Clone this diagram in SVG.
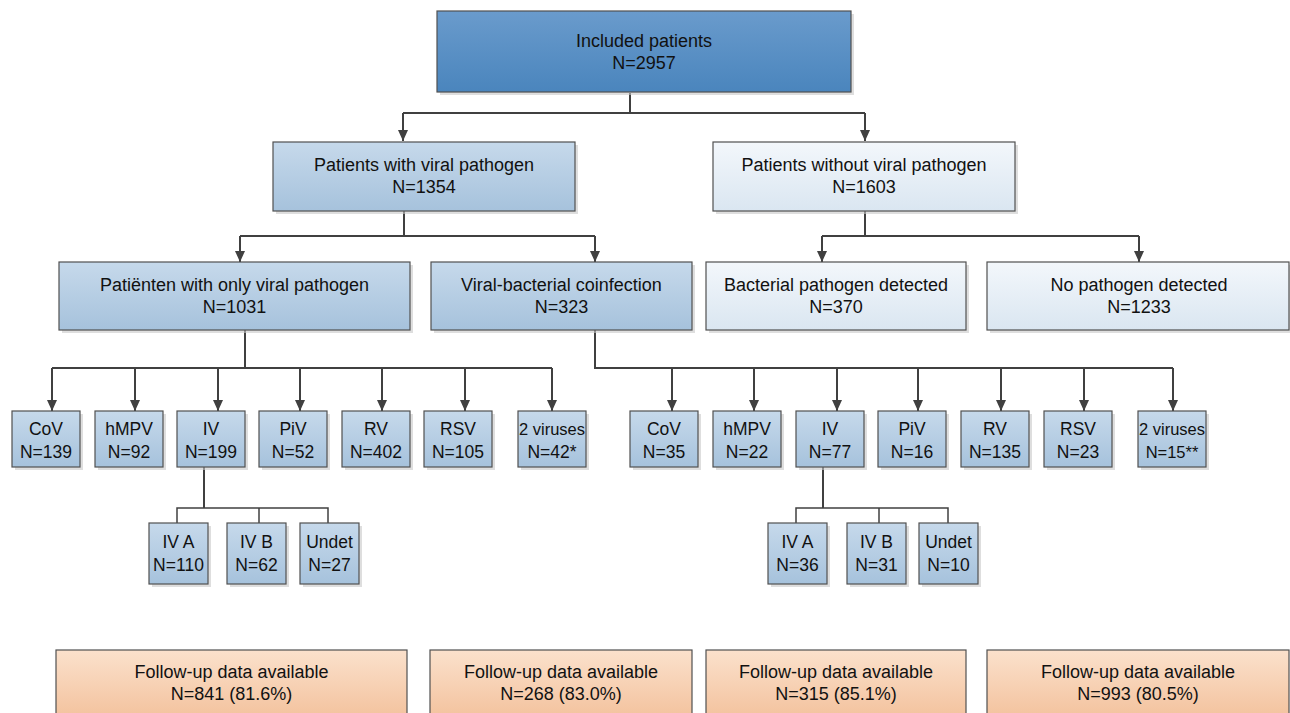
<svg xmlns="http://www.w3.org/2000/svg" width="1290" height="713" viewBox="0 0 1290 713">
<defs>
<linearGradient id="gTop" x1="0" y1="0" x2="0" y2="1"><stop offset="0" stop-color="#6a9bcc"/><stop offset="1" stop-color="#4a85bd"/></linearGradient>
<linearGradient id="gMid" x1="0" y1="0" x2="0" y2="1"><stop offset="0" stop-color="#c6d9eb"/><stop offset="1" stop-color="#a6c2dc"/></linearGradient>
<linearGradient id="gLight" x1="0" y1="0" x2="0" y2="1"><stop offset="0" stop-color="#f3f7fb"/><stop offset="1" stop-color="#dae6f1"/></linearGradient>
<linearGradient id="gPeach" x1="0" y1="0" x2="0" y2="1"><stop offset="0" stop-color="#fbe1cc"/><stop offset="1" stop-color="#f3c19c"/></linearGradient>
<marker id="arr" markerUnits="userSpaceOnUse" markerWidth="12" markerHeight="12" refX="11" refY="5" orient="auto" viewBox="0 0 12 10"><path d="M0,0 L11,5 L0,10 z" fill="#404040"/></marker>
</defs>
<style>
.box{stroke:#505050;stroke-width:1.2}
.sh{fill:#c8c8c8;opacity:0.6}
.top{fill:url(#gTop)}
.mid{fill:url(#gMid)}
.light{fill:url(#gLight)}
.peach{fill:url(#gPeach)}
text{font-family:"Liberation Sans",Arial,sans-serif;font-size:18px;fill:#111;text-anchor:middle}
.s{font-size:17.5px}
.s2{font-size:16.5px}
.c{fill:none;stroke:#404040;stroke-width:2}
.ca{fill:none;stroke:#404040;stroke-width:2;marker-end:url(#arr)}
.t{fill:none;stroke:#404040;stroke-width:1.5}
</style>
<rect width="1290" height="713" fill="#fff"/>

<g id="connectors">
<path class="c" d="M630,93 V113 M403,113 H865"/>
<path class="ca" d="M403,113 V141"/>
<path class="ca" d="M865,113 V141"/>
<path class="c" d="M404,211 V236 M240,236 H595"/>
<path class="ca" d="M240,236 V262"/>
<path class="ca" d="M595,236 V262"/>
<path class="c" d="M865,211 V236 M822,236 H1139"/>
<path class="ca" d="M822,236 V262"/>
<path class="ca" d="M1139,236 V262"/>
<path class="c" d="M245,330 V368 M52,368 H552"/>
<path class="ca" d="M52,368 V411"/>
<path class="ca" d="M135,368 V411"/>
<path class="ca" d="M218,368 V411"/>
<path class="ca" d="M300,368 V411"/>
<path class="ca" d="M382,368 V411"/>
<path class="ca" d="M465,368 V411"/>
<path class="ca" d="M552,368 V411"/>
<path class="c" d="M595,330 V368 H1173"/>
<path class="ca" d="M672,368 V411"/>
<path class="ca" d="M754,368 V411"/>
<path class="ca" d="M837,368 V411"/>
<path class="ca" d="M918,368 V411"/>
<path class="ca" d="M1001,368 V411"/>
<path class="ca" d="M1084,368 V411"/>
<path class="ca" d="M1173,368 V411"/>
<path class="c" d="M204,467 V508"/>
<path class="t" d="M177,523 V508 H328 V523 M259,508 V523"/>
<path class="c" d="M823,467 V508"/>
<path class="t" d="M796,523 V508 H948 V523 M879,508 V523"/>
</g>

<g id="n-included"><rect class="sh" x="440" y="14" width="414" height="81"/><rect class="box top" x="437" y="11" width="414" height="81"/><text x="644" y="47">Included patients</text><text x="644" y="69">N=2957</text></g>

<g id="n-viral"><rect class="sh" x="276" y="145" width="302" height="69"/><rect class="box mid" x="273" y="142" width="302" height="69"/><text x="424" y="171">Patients with viral pathogen</text><text x="424" y="193">N=1354</text></g>
<g id="n-noviral"><rect class="sh" x="716" y="145" width="302" height="69"/><rect class="box light" x="713" y="142" width="302" height="69"/><text x="864" y="171">Patients without viral pathogen</text><text x="864" y="193">N=1603</text></g>

<g id="n-onlyviral"><rect class="sh" x="62" y="265" width="351" height="68"/><rect class="box mid" x="59" y="262" width="351" height="68"/><text x="234.5" y="291">Patiënten with only viral pathogen</text><text x="234.5" y="313">N=1031</text></g>
<g id="n-coinf"><rect class="sh" x="434" y="265" width="261" height="68"/><rect class="box mid" x="431" y="262" width="261" height="68"/><text x="561.5" y="291">Viral-bacterial coinfection</text><text x="561.5" y="313">N=323</text></g>
<g id="n-bact"><rect class="sh" x="709" y="265" width="260" height="68"/><rect class="box light" x="706" y="262" width="260" height="68"/><text x="836" y="291">Bacterial pathogen detected</text><text x="836" y="313">N=370</text></g>
<g id="n-none"><rect class="sh" x="990" y="265" width="302" height="68"/><rect class="box light" x="987" y="262" width="302" height="68"/><text x="1139" y="291">No pathogen detected</text><text x="1139" y="313">N=1233</text></g>

<g id="l-cov"><rect class="sh" x="15" y="414" width="68" height="56"/><rect class="box mid" x="12" y="411" width="68" height="56"/><text class="s" x="46" y="435">CoV</text><text class="s" x="46" y="458">N=139</text></g>
<g id="l-hmpv"><rect class="sh" x="98" y="414" width="68" height="56"/><rect class="box mid" x="95" y="411" width="68" height="56"/><text class="s" x="129" y="435">hMPV</text><text class="s" x="129" y="458">N=92</text></g>
<g id="l-iv"><rect class="sh" x="180" y="414" width="68" height="56"/><rect class="box mid" x="177" y="411" width="68" height="56"/><text class="s" x="211" y="435">IV</text><text class="s" x="211" y="458">N=199</text></g>
<g id="l-piv"><rect class="sh" x="262" y="414" width="68" height="56"/><rect class="box mid" x="259" y="411" width="68" height="56"/><text class="s" x="293" y="435">PiV</text><text class="s" x="293" y="458">N=52</text></g>
<g id="l-rv"><rect class="sh" x="345" y="414" width="68" height="56"/><rect class="box mid" x="342" y="411" width="68" height="56"/><text class="s" x="376" y="435">RV</text><text class="s" x="376" y="458">N=402</text></g>
<g id="l-rsv"><rect class="sh" x="427" y="414" width="68" height="56"/><rect class="box mid" x="424" y="411" width="68" height="56"/><text class="s" x="458" y="435">RSV</text><text class="s" x="458" y="458">N=105</text></g>
<g id="l-2v"><rect class="sh" x="521" y="414" width="68" height="56"/><rect class="box mid" x="518" y="411" width="68" height="56"/><text class="s2" x="552" y="435">2 viruses</text><text class="s" x="552" y="458">N=42*</text></g>

<g id="l-iva"><rect class="sh" x="152" y="526" width="59" height="61"/><rect class="box mid" x="149" y="523" width="59" height="61"/><text class="s" x="178.5" y="548">IV A</text><text class="s" x="178.5" y="571">N=110</text></g>
<g id="l-ivb"><rect class="sh" x="230" y="526" width="59" height="61"/><rect class="box mid" x="227" y="523" width="59" height="61"/><text class="s" x="256.5" y="548">IV B</text><text class="s" x="256.5" y="571">N=62</text></g>
<g id="l-undet"><rect class="sh" x="303" y="526" width="59" height="61"/><rect class="box mid" x="300" y="523" width="59" height="61"/><text class="s" x="329.5" y="548">Undet</text><text class="s" x="329.5" y="571">N=27</text></g>

<g id="r-cov"><rect class="sh" x="633" y="414" width="68" height="56"/><rect class="box mid" x="630" y="411" width="68" height="56"/><text class="s" x="664" y="435">CoV</text><text class="s" x="664" y="458">N=35</text></g>
<g id="r-hmpv"><rect class="sh" x="716" y="414" width="68" height="56"/><rect class="box mid" x="713" y="411" width="68" height="56"/><text class="s" x="747" y="435">hMPV</text><text class="s" x="747" y="458">N=22</text></g>
<g id="r-iv"><rect class="sh" x="799" y="414" width="68" height="56"/><rect class="box mid" x="796" y="411" width="68" height="56"/><text class="s" x="830" y="435">IV</text><text class="s" x="830" y="458">N=77</text></g>
<g id="r-piv"><rect class="sh" x="881" y="414" width="68" height="56"/><rect class="box mid" x="878" y="411" width="68" height="56"/><text class="s" x="912" y="435">PiV</text><text class="s" x="912" y="458">N=16</text></g>
<g id="r-rv"><rect class="sh" x="964" y="414" width="68" height="56"/><rect class="box mid" x="961" y="411" width="68" height="56"/><text class="s" x="995" y="435">RV</text><text class="s" x="995" y="458">N=135</text></g>
<g id="r-rsv"><rect class="sh" x="1047" y="414" width="68" height="56"/><rect class="box mid" x="1044" y="411" width="68" height="56"/><text class="s" x="1078" y="435">RSV</text><text class="s" x="1078" y="458">N=23</text></g>
<g id="r-2v"><rect class="sh" x="1141" y="414" width="68" height="56"/><rect class="box mid" x="1138" y="411" width="68" height="56"/><text class="s2" x="1172" y="435">2 viruses</text><text class="s2" x="1172" y="458">N=15**</text></g>

<g id="r-iva"><rect class="sh" x="771" y="526" width="59" height="61"/><rect class="box mid" x="768" y="523" width="59" height="61"/><text class="s" x="797.5" y="548">IV A</text><text class="s" x="797.5" y="571">N=36</text></g>
<g id="r-ivb"><rect class="sh" x="850" y="526" width="59" height="61"/><rect class="box mid" x="847" y="523" width="59" height="61"/><text class="s" x="876.5" y="548">IV B</text><text class="s" x="876.5" y="571">N=31</text></g>
<g id="r-undet"><rect class="sh" x="922" y="526" width="59" height="61"/><rect class="box mid" x="919" y="523" width="59" height="61"/><text class="s" x="948.5" y="548">Undet</text><text class="s" x="948.5" y="571">N=10</text></g>

<g id="f1"><rect class="box peach" x="56" y="650" width="351" height="70"/><text x="231.5" y="678">Follow-up data available</text><text x="231.5" y="700">N=841 (81.6%)</text></g>
<g id="f2"><rect class="box peach" x="430" y="650" width="262" height="70"/><text x="561" y="678">Follow-up data available</text><text x="561" y="700">N=268 (83.0%)</text></g>
<g id="f3"><rect class="box peach" x="706" y="650" width="260" height="70"/><text x="836" y="678">Follow-up data available</text><text x="836" y="700">N=315 (85.1%)</text></g>
<g id="f4"><rect class="box peach" x="987" y="650" width="302" height="70"/><text x="1138" y="678">Follow-up data available</text><text x="1138" y="700">N=993 (80.5%)</text></g>
</svg>
